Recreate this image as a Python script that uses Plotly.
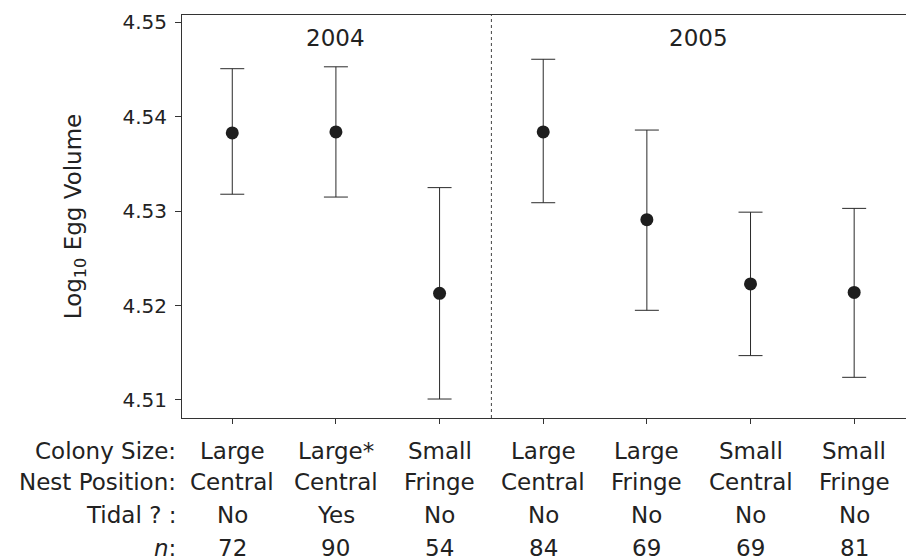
import plotly.graph_objects as go

# Group means of log10 egg volume with upper/lower limits of the error bars
positions = [0, 1, 2, 3, 4, 5, 6]
means = [4.5383, 4.5384, 4.5213, 4.5384, 4.5291, 4.5223, 4.5214]
upper = [4.5451, 4.5453, 4.5325, 4.5461, 4.5386, 4.5299, 4.5303]
lower = [4.5318, 4.5315, 4.5101, 4.5309, 4.5195, 4.5147, 4.5124]

years = ["2004", "2005"]
year_centres = [1.0, 4.5]
year_split = 2.5

row_titles = ["Colony Size:", "Nest Position:", "Tidal ? :", "<i>n</i>:"]
colony_size = ["Large", "Large*", "Small", "Large", "Large", "Small", "Small"]
nest_position = ["Central", "Central", "Fringe", "Central", "Fringe", "Central", "Fringe"]
tidal = ["No", "Yes", "No", "No", "No", "No", "No"]
sample_n = ["72", "90", "54", "84", "69", "69", "81"]

y_ticks = [4.51, 4.52, 4.53, 4.54, 4.55]

FONT = "DejaVu Sans"
INK = "#222222"

fig = go.Figure()

fig.add_trace(go.Scatter(
    x=positions,
    y=means,
    mode="markers",
    marker=dict(size=13, color="#1e1e1e", line=dict(width=0)),
    error_y=dict(
        type="data",
        symmetric=False,
        array=[u - m for u, m in zip(upper, means)],
        arrayminus=[m - lo for m, lo in zip(means, lower)],
        color="#2a2a2a",
        thickness=1,
        width=12,
    ),
    showlegend=False,
    cliponaxis=False,
))

# dashed divider between the two years
fig.add_shape(
    type="line", xref="x", yref="paper",
    x0=year_split, x1=year_split, y0=0, y1=1,
    line=dict(color="#444444", width=1, dash="3px,3px"),
)

annotations = []
for label, xc in zip(years, year_centres):
    annotations.append(dict(
        x=xc, y=4.5484, xref="x", yref="y", text=label, showarrow=False,
        font=dict(family=FONT, size=23, color=INK),
        xanchor="center", yanchor="middle",
    ))

# table of group descriptors beneath the axis
row_y = [-0.082, -0.159, -0.240, -0.322]
rows = [colony_size, nest_position, tidal, sample_n]
for title, ry, values in zip(row_titles, row_y, rows):
    annotations.append(dict(
        x=-0.006, y=ry, xref="paper", yref="paper", text=title, showarrow=False,
        font=dict(family=FONT, size=23, color=INK),
        xanchor="right", yanchor="middle",
    ))
    for xp, v in zip(positions, values):
        annotations.append(dict(
            x=xp, y=ry, xref="x", yref="paper", text=v, showarrow=False,
            font=dict(family=FONT, size=23, color=INK),
            xanchor="center", yanchor="middle",
        ))

fig.update_layout(
    width=906,
    height=560,
    margin=dict(l=182, r=0, t=15, b=142),
    paper_bgcolor="white",
    plot_bgcolor="white",
    font=dict(family=FONT, color=INK),
    annotations=annotations,
)

fig.update_xaxes(
    range=[-0.485, 6.5],
    tickvals=positions,
    showticklabels=False,
    ticks="outside",
    ticklen=5,
    tickcolor="#333333",
    showline=True,
    linecolor="#333333",
    linewidth=1,
    mirror=True,
    showgrid=False,
    zeroline=False,
)

fig.update_yaxes(
    range=[4.50809, 4.55079],
    tickvals=y_ticks,
    ticktext=[f"{t:.2f}" for t in y_ticks],
    ticks="outside",
    ticklen=6,
    tickcolor="#333333",
    tickfont=dict(family=FONT, size=20, color=INK),
    ticklabelstandoff=4,
    showline=True,
    linecolor="#333333",
    linewidth=1,
    showgrid=False,
    zeroline=False,
    title=dict(
        text="Log<sub>10</sub> Egg Volume",
        font=dict(family=FONT, size=23, color=INK),
        standoff=34,
    ),
)

fig.write_html("out.html")
